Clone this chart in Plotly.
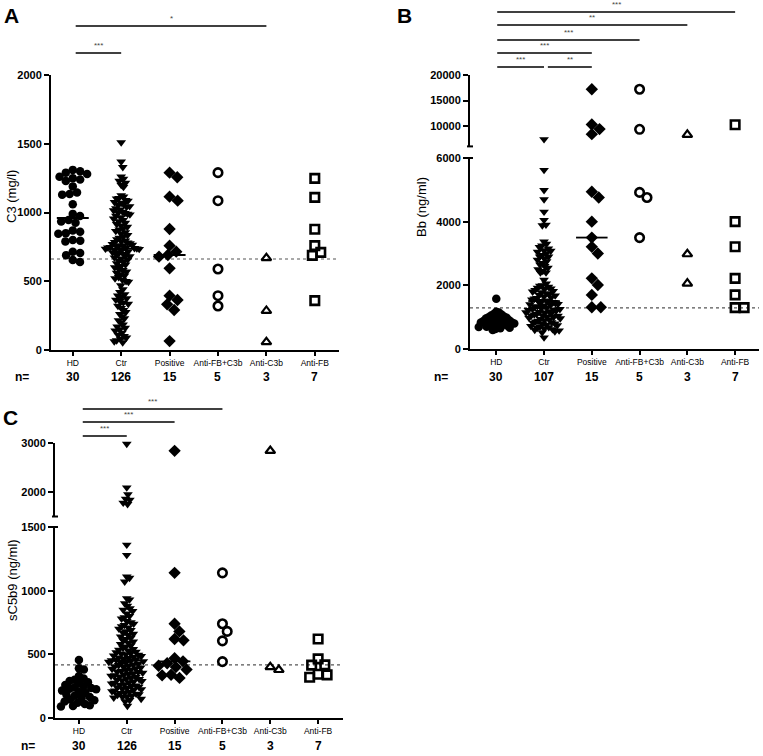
import numpy as np
import plotly.graph_objects as go

W, H = 763, 756
FONT = "Arial, Liberation Sans, Helvetica, sans-serif"

categories = ["HD", "Ctr", "Positive", "Anti-FB+C3b", "Anti-C3b", "Anti-FB"]

# ---------------- Panel A : C3 (mg/l) ----------------
c3_hd = [1310, 1300, 1290, 1280, 1260, 1250, 1240, 1230, 1190, 1145, 1135, 1130, 1060, 990, 975,
         945, 935, 925, 870, 860, 850, 845, 800, 795, 790, 715, 705, 690, 655, 640]
c3_ctr = [1510, 1370, 1330, 1260, 1245, 1230, 1215, 1200, 1185,
          1125, 1115, 1105, 1100, 1090, 1085, 1075, 1070, 1060, 1055, 1045, 1040, 1030, 1020, 1015, 1005,
          1000, 995, 990, 985, 975, 965,
          955, 945, 935, 925, 915, 905, 895, 885, 875, 865, 855, 845, 835, 825, 815, 805, 795, 790, 785,
          780, 775, 770, 765, 760, 755, 750, 748, 745, 742, 740, 738, 736,
          734, 728, 722, 716, 710, 704, 698, 692, 686, 680, 672, 664, 656, 648, 640, 630, 620, 610, 600,
          590, 580, 570, 560, 550, 540, 530, 520, 510, 500, 495,
          470, 440, 420, 405, 395, 385, 375, 365, 355, 345, 335, 320, 305, 290, 275, 260, 245, 230, 215,
          200, 185, 170, 160, 150, 140, 125, 110, 100, 90, 80, 70, 62, 55]
c3_pos = [1290, 1256, 1115, 1086, 880, 759, 715, 691, 679, 594, 395, 364, 332, 291, 65]
c3_fbc3b = [1290, 1086, 589, 395, 320]
c3_c3b = [669, 286, 58]
c3_fb = [1248, 1110, 878, 759, 710, 688, 359]
c3_ref = 662

# ---------------- Panel B : Bb (ng/ml) ----------------
bb_hd = [1580, 1170, 1150, 1100, 1080, 1050, 1020, 1000, 980, 960, 940, 920, 900, 880, 860,
         850, 840, 830, 820, 800, 780, 760, 740, 720, 700, 690, 670, 650, 630, 600]
bb_ctr = [7400,
          5620, 4990, 4700, 4310, 4050, 3900, 3880, 3370,
          3300, 3250, 3200, 3150, 3100, 3080, 3050, 3000, 2950, 2900, 2900, 2850, 2800, 2750, 2700,
          2650, 2600, 2550, 2500, 2450, 2400, 2400,
          2170,
          2050, 2000, 1980, 1950, 1920, 1900, 1880, 1850, 1820, 1800, 1780, 1750, 1720, 1700, 1680,
          1650, 1620, 1600, 1580, 1550, 1520,
          1507,
          1490, 1470, 1450, 1430, 1410, 1400, 1380, 1360, 1340, 1320, 1300, 1280, 1260, 1250, 1240,
          1220, 1200, 1180, 1160, 1150, 1140, 1120, 1100, 1080, 1060, 1050, 1040, 1020, 1000, 980,
          960, 940, 920, 900, 880, 860, 840, 820, 800, 780, 760, 740, 720, 700, 680, 660, 640, 620,
          600, 580, 550, 520, 360]
bb_pos = [17200, 10300, 9400, 8400, 4940, 4760, 4000, 3500, 3210, 3000, 2220, 2010, 1700, 1310, 1310]
bb_fbc3b = [17200, 9350, 4920, 4760, 3500]
bb_c3b = [8300, 2980, 2060]
bb_fb = [10250, 4000, 3210, 2220, 1700, 1300, 1300]
bb_ref = 1290

# ---------------- Panel C : sC5b9 (ng/ml) ----------------
sc_hd = [455, 390, 380, 330, 310, 300, 290, 280, 270, 260, 250, 240, 235, 230, 225,
         215, 205, 195, 185, 175, 165, 155, 145, 140, 130, 120, 110, 100, 95, 90]
sc_ctr = [2980, 2090, 1950, 1860, 1840, 1780, 1750,
          1360, 1280, 1110, 1100, 1070, 940, 930,
          900, 880, 860, 850, 840, 820, 800, 790, 780, 760, 750, 740, 730, 720, 710, 700, 690, 680,
          670, 660, 650, 640, 630, 620, 610, 600, 590, 580, 570, 560, 550, 540, 535, 530, 520, 515,
          510, 505, 500, 495, 490, 485, 480, 475, 470, 465, 460, 455, 452,
          450, 445, 440, 435, 430, 425, 420, 415, 410, 405, 400, 395, 390, 385, 380, 375, 370, 365,
          360, 355, 350, 345, 340, 335, 330, 325, 320, 315, 310, 305, 300, 295, 290, 285, 280, 275,
          270, 265, 260, 255, 250, 245, 240, 235, 230, 225, 220, 215, 210, 205, 200, 195, 190, 185,
          180, 175, 170, 165, 160, 150, 140, 130, 95]
sc_pos = [2840, 1140, 740, 680, 620, 610, 470, 445, 430, 410, 400, 380, 340, 335, 315]
sc_fbc3b = [1140, 740, 680, 606, 443]
sc_c3b = [2840, 400, 378]
sc_fb = [620, 464, 417, 415, 344, 339, 320]
sc_ref = 417

# significance comparisons: (group i, group j, label)
sig_a = [(0, 4, "*"), (0, 1, "***")]
sig_b = [(0, 5, "***"), (0, 4, "**"), (0, 3, "***"), (0, 2, "***"), (0, 1, "***"), (1, 2, "**")]
sig_c = [(0, 3, "***"), (0, 2, "***"), (0, 1, "***")]

# ---------------- styling / layout ----------------
def fx(px):
    return px / W

def fy(py):
    return 1 - py / H

marker_styles = [
    dict(symbol="circle", size=8.5, color="black", line=dict(width=0)),
    dict(symbol="triangle-down", size=8.5, color="black", line=dict(width=0)),
    dict(symbol="diamond", size=9.5, color="black", line=dict(width=0)),
    dict(symbol="circle-open", size=8.5, color="black", line=dict(width=2.6, color="black")),
    dict(symbol="triangle-up-open", size=8.5, color="black", line=dict(width=2.2, color="black")),
    dict(symbol="square-open", size=8.5, color="black", line=dict(width=2.6, color="black")),
]
swarm_d = [7.5, 7.5, 9, 9, 9, 9]

panels = [
    dict(letter="A", letter_xy=(11, 15), xid="x", xkey="xaxis", xdom=(51, 339), xrange=(-0.45, 5.5),
         segs=[("y", "yaxis", 0, 2000, 350, 75, [0, 500, 1000, 1500, 2000])],
         groups=[c3_hd, c3_ctr, c3_pos, c3_fbc3b, c3_c3b, c3_fb], ref=c3_ref,
         title="C3 (mg/l)", title_xy=(11, 197), nrow_y=377, n_x=22,
         sig=sig_a, sig_y=[26, 53], sig_dx=0.06),
    dict(letter="B", letter_xy=(404, 15), xid="x2", xkey="xaxis2", xdom=(470, 759), xrange=(-0.55, 5.5),
         segs=[("y2", "yaxis2", 0, 6000, 349, 158, [0, 2000, 4000, 6000]),
               ("y3", "yaxis3", 6000, 20000, 146.4, 75, [10000, 15000, 20000])],
         groups=[bb_hd, bb_ctr, bb_pos, bb_fbc3b, bb_c3b, bb_fb], ref=bb_ref,
         title="Bb (ng/ml)", title_xy=(421, 207), nrow_y=377, n_x=441,
         sig=sig_b, sig_y=[12, 25, 40, 53, 67, 67], sig_dx=0.02),
    dict(letter="C", letter_xy=(10, 417), xid="x3", xkey="xaxis3", xdom=(55, 343), xrange=(-0.5, 5.52),
         segs=[("y4", "yaxis4", 0, 1500, 718, 527, [0, 500, 1000, 1500]),
               ("y5", "yaxis5", 1500, 3000, 516.5, 443, [2000, 3000])],
         groups=[sc_hd, sc_ctr, sc_pos, sc_fbc3b, sc_c3b, sc_fb], ref=sc_ref,
         title="sC5b9 (ng/ml)", title_xy=(12, 580), nrow_y=746, n_x=28,
         sig=sig_c, sig_y=[409, 422, 436], sig_dx=0.08),
]


def seg_of(segs, v):
    for s in segs:
        if s[2] <= v <= s[3]:
            return s
    return segs[-1]


def val_to_px(segs, v):
    s = seg_of(segs, v)
    _, _, lo, hi, bot, top, _ = s
    return bot - (v - lo) / (hi - lo) * (bot - top)


def swarm(py, d, max_half):
    py = np.asarray(py, dtype=float)
    order = np.argsort(py, kind="stable")
    placed = []
    xs = np.zeros(len(py))
    for idx in order:
        y = py[idx]
        cands = [0.0]
        for xj, yj in placed:
            dy = abs(y - yj)
            if dy < d:
                dx = np.sqrt(d * d - dy * dy)
                cands += [xj + dx, xj - dx]
        cands = sorted(set(cands), key=lambda c: (round(abs(c), 6), -c))
        chosen = 0.0
        for c in cands:
            if all((c - xj) ** 2 + (y - yj) ** 2 >= d * d - 1e-6 for xj, yj in placed):
                chosen = c
                break
        xs[idx] = chosen
        placed.append((chosen, y))
    m = np.max(np.abs(xs)) if len(xs) else 0
    if m > max_half:
        xs = xs * max_half / m
    return xs


fig = go.Figure()
layout = dict(width=W, height=H, margin=dict(l=0, r=0, t=0, b=0), autosize=False,
              paper_bgcolor="white", plot_bgcolor="white", showlegend=False,
              font=dict(family=FONT, color="black"))
shapes = []
annotations = []

for p in panels:
    xl, xr = p["xdom"]
    ppc = (xr - xl) / (p["xrange"][1] - p["xrange"][0])
    lower = p["segs"][0]
    layout[p["xkey"]] = dict(domain=[fx(xl), fx(xr)], range=list(p["xrange"]), anchor=lower[0],
                             showline=True, linewidth=2, linecolor="black", ticks="outside",
                             ticklen=4, tickwidth=1.5, tickcolor="black",
                             tickvals=list(range(len(categories))), ticktext=categories,
                             tickfont=dict(size=8.5, family=FONT, color="black"),
                             showgrid=False, zeroline=False, fixedrange=True, automargin=False)
    for (yid, ykey, lo, hi, bot, top, tv) in p["segs"]:
        layout[ykey] = dict(domain=[fy(bot), fy(top)], range=[lo, hi], anchor=p["xid"],
                            showline=True, linewidth=2, linecolor="black", ticks="outside",
                            ticklen=5, tickwidth=2, tickcolor="black", tickvals=tv,
                            ticktext=[str(v) for v in tv],
                            tickfont=dict(size=11, family=FONT, color="black", weight="bold"),
                            showgrid=False, zeroline=False, fixedrange=True, automargin=False)
    # break caps
    if len(p["segs"]) > 1:
        for py_ in (p["segs"][0][5], p["segs"][1][4]):
            shapes.append(dict(type="line", xref="paper", yref="paper", x0=fx(xl - 3), x1=fx(xl + 3),
                               y0=fy(py_), y1=fy(py_), line=dict(color="black", width=2)))

    # reference dotted line
    shapes.append(dict(type="line", xref=p["xid"], yref=lower[0], x0=p["xrange"][0], x1=p["xrange"][1],
                       y0=p["ref"], y1=p["ref"], line=dict(color="#555555", width=1.2, dash="dot"),
                       layer="below"))

    for gi, vals in enumerate(p["groups"]):
        vals = np.asarray(vals, dtype=float)
        py = np.array([val_to_px(p["segs"], v) for v in vals])
        offs = swarm(py, swarm_d[gi], 18) / ppc
        for (yid, ykey, lo, hi, bot, top, tv) in p["segs"]:
            mask = np.array([seg_of(p["segs"], v)[0] == yid for v in vals])
            if not mask.any():
                continue
            fig.add_trace(go.Scatter(x=gi + offs[mask], y=vals[mask], mode="markers",
                                     xaxis=p["xid"], yaxis=yid, marker=marker_styles[gi],
                                     cliponaxis=False, hoverinfo="skip"))
        if gi < 3:
            med = float(np.median(vals))
            shapes.append(dict(type="line", xref=p["xid"], yref=seg_of(p["segs"], med)[0],
                               x0=gi - 0.33, x1=gi + 0.33, y0=med, y1=med,
                               line=dict(color="black", width=1.8)))
        annotations.append(dict(text="<b>%d</b>" % len(vals), x=gi, xref=p["xid"], y=fy(p["nrow_y"]),
                                yref="paper", showarrow=False, xanchor="center", yanchor="middle",
                                font=dict(size=12, family=FONT, color="black")))

    annotations.append(dict(text="<b>n=</b>", x=fx(p["n_x"]), xref="paper", y=fy(p["nrow_y"]),
                            yref="paper", showarrow=False, xanchor="center", yanchor="middle",
                            font=dict(size=12, family=FONT, color="black")))
    annotations.append(dict(text="<b>%s</b>" % p["letter"], x=fx(p["letter_xy"][0]), y=fy(p["letter_xy"][1]),
                            xref="paper", yref="paper", showarrow=False, xanchor="center",
                            yanchor="middle", font=dict(size=21, family=FONT, color="black")))
    annotations.append(dict(text=p["title"], x=fx(p["title_xy"][0]), y=fy(p["title_xy"][1]),
                            xref="paper", yref="paper", showarrow=False, textangle=-90,
                            xanchor="center", yanchor="middle",
                            font=dict(size=13, family=FONT, color="black")))
    # significance bars
    for (i, j, lab), by in zip(p["sig"], p["sig_y"]):
        x0 = i + p["sig_dx"] if i == 0 else i + 0.08
        shapes.append(dict(type="line", xref=p["xid"], yref="paper", x0=x0, x1=j, y0=fy(by), y1=fy(by),
                           line=dict(color="black", width=1.5)))
        annotations.append(dict(text=lab, x=(x0 + j) / 2, xref=p["xid"], y=fy(by - 1), yref="paper",
                                showarrow=False, xanchor="center", yanchor="bottom",
                                font=dict(size=8, family=FONT, color="#444444")))

layout["shapes"] = shapes
layout["annotations"] = annotations
fig.update_layout(**layout)
fig.write_html("out.html", config={"displayModeBar": False},
               post_script="document.body.style.margin='0';document.body.style.overflow='hidden';")
